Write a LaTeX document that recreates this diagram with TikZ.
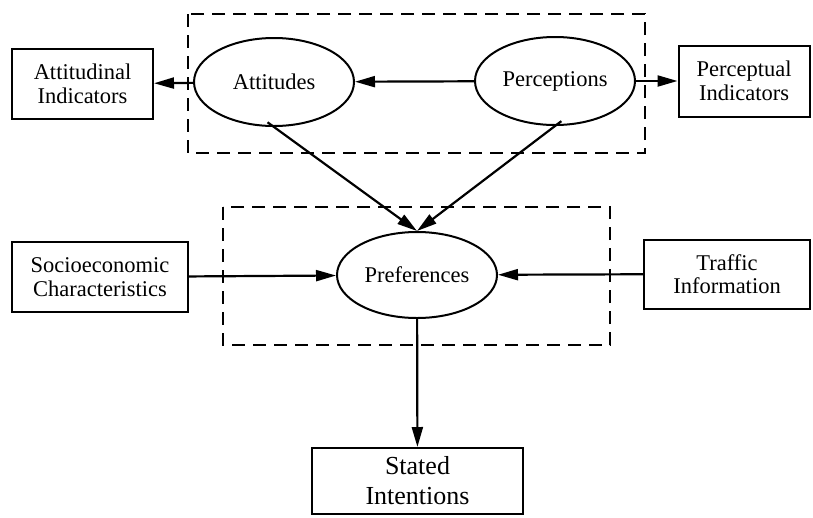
\documentclass[tikz,border=0pt]{standalone}
\usepackage{fontspec}
\setmainfont{Liberation Serif}
\usetikzlibrary{arrows.meta,positioning,shapes.geometric}

\begin{document}
\begin{tikzpicture}[
  x=1pt, y=-1pt,
  font=\fontsize{22.5}{23.5}\selectfont,
  box/.style={rectangle, draw=black, line width=2pt, align=center, inner sep=0pt},
  oval/.style={ellipse, draw=black, line width=2pt, align=center, inner sep=0pt, minimum width=160pt, minimum height=88pt},
  group/.style={draw=black, line width=1.7pt, dash pattern=on 13pt off 8pt},
  arrow/.style={-{Triangle[length=20pt,width=11pt]}, line width=2.2pt}
]
\useasboundingbox (0,0) rectangle (813,517);

% latent groups
\draw[group] (188,14) rectangle (645,153);
\draw[group] (223,207) rectangle (610,345);

\node[oval] (att) at (274,82) {Attitudes};
\node[oval] (perc) at (555,81) {Perceptions};
\node[oval, minimum height=86pt] (pref) at (417,275) {Preferences};

\node[box, minimum width=141pt, minimum height=70pt] (attind) at (82.5,84) {Attitudinal\\Indicators};
\node[box, minimum width=131pt, minimum height=71pt] (percind) at (744,81) {Perceptual\\Indicators};
\node[box, minimum width=176pt, minimum height=70pt] (socio) at (100,277) {Socioeconomic\\Characteristics};
\node[box, minimum width=166pt, minimum height=69pt] (traffic) at (727,274) {Traffic\\Information};
\node[box, minimum width=211pt, minimum height=66pt, font=\fontsize{26}{30}\selectfont] (stated) at (417.5,481) {Stated\\Intentions};

\draw[arrow] (perc) -- (att);
\draw[arrow] (att) -- (attind);
\draw[arrow] (perc) -- (percind);
\draw[arrow, shorten <=-8pt] (att.south) -- (pref.north);
\draw[arrow, shorten <=-8pt] (perc.south) -- (pref.north);
\draw[arrow] (socio) -- (pref);
\draw[arrow] (traffic) -- (pref);
\draw[arrow] (pref) -- (stated);

\end{tikzpicture}
\end{document}
